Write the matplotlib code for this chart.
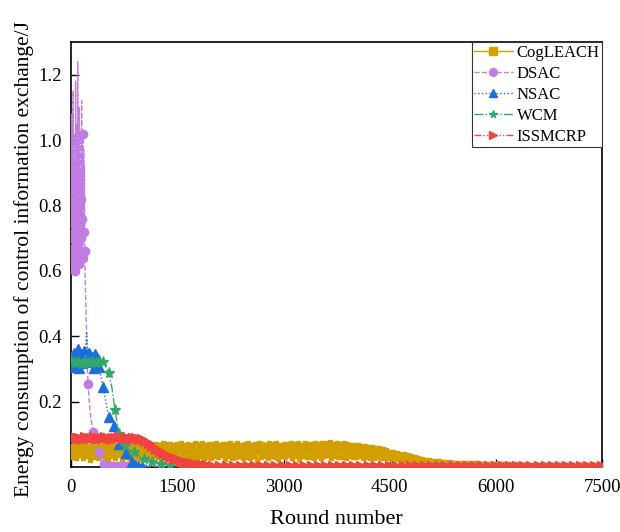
import numpy as np
import matplotlib
matplotlib.use('Agg')
import matplotlib.pyplot as plt

plt.rcParams['font.family'] = ['Liberation Serif', 'DejaVu Serif']

# ---------------- data ----------------
cog_rounds = list(range(0, 7501, 25))
cog_energy = [
    0.064, 0.032, 0.068, 0.026, 0.070, 0.036, 0.066, 0.029, 0.071, 0.034, 0.063, 0.022, 0.069, 0.031, 0.067, 0.027, 0.072, 0.035, 0.065, 0.030,
    0.070, 0.025, 0.066, 0.033, 0.071, 0.028, 0.064, 0.036, 0.069, 0.021, 0.067, 0.032, 0.072, 0.027, 0.065, 0.034, 0.070, 0.029, 0.068, 0.024,
    0.071, 0.033, 0.066, 0.030, 0.073, 0.026, 0.068, 0.035, 0.070, 0.031, 0.067, 0.023, 0.072, 0.034, 0.069, 0.028, 0.071, 0.032, 0.066, 0.036,
    0.070, 0.029, 0.073, 0.034, 0.068, 0.025, 0.071, 0.033, 0.067, 0.030, 0.072, 0.020, 0.069, 0.035, 0.074, 0.028, 0.068, 0.032, 0.071, 0.026,
    0.069, 0.034, 0.072, 0.030, 0.067, 0.036, 0.071, 0.024, 0.070, 0.033, 0.073, 0.028, 0.068, 0.031, 0.072, 0.035, 0.066, 0.027, 0.070, 0.032,
    0.072, 0.029, 0.068, 0.034, 0.071, 0.022, 0.074, 0.031, 0.069, 0.035, 0.067, 0.027, 0.072, 0.033, 0.070, 0.030, 0.073, 0.025, 0.068, 0.034,
    0.071, 0.031, 0.069, 0.036, 0.073, 0.028, 0.070, 0.033, 0.072, 0.024, 0.068, 0.035, 0.074, 0.030, 0.071, 0.032, 0.069, 0.027, 0.073, 0.034,
    0.070, 0.029, 0.074, 0.033, 0.072, 0.036, 0.075, 0.026, 0.071, 0.034, 0.073, 0.030, 0.070, 0.032, 0.072, 0.028, 0.069, 0.035, 0.068, 0.031,
    0.067, 0.030, 0.066, 0.033, 0.064, 0.028, 0.063, 0.031, 0.061, 0.029, 0.060, 0.027, 0.058, 0.030, 0.057, 0.026, 0.055, 0.028, 0.052, 0.027,
    0.047, 0.025, 0.045, 0.024, 0.043, 0.023, 0.041, 0.022, 0.039, 0.021, 0.036, 0.020, 0.033, 0.019, 0.030, 0.018, 0.027, 0.017, 0.024, 0.016,
    0.021, 0.015, 0.020, 0.014, 0.019, 0.014, 0.018, 0.013, 0.017, 0.012, 0.016, 0.012, 0.015, 0.011, 0.014, 0.011, 0.013, 0.010, 0.013, 0.010,
    0.012, 0.010, 0.012, 0.009, 0.012, 0.009, 0.011, 0.009, 0.011, 0.008, 0.011, 0.008, 0.010, 0.008, 0.010, 0.008, 0.010, 0.007, 0.010, 0.007,
    0.009, 0.007, 0.009, 0.007, 0.009, 0.007, 0.008, 0.006, 0.008, 0.006, 0.008, 0.006, 0.008, 0.006, 0.007, 0.006, 0.007, 0.006, 0.007, 0.006,
    0.007, 0.005, 0.007, 0.005, 0.006, 0.005, 0.006, 0.005, 0.006, 0.005, 0.006, 0.005, 0.006, 0.005, 0.006, 0.005, 0.006, 0.005, 0.006, 0.005,
    0.006, 0.005, 0.006, 0.005, 0.006, 0.005, 0.005, 0.005, 0.005, 0.005, 0.005, 0.005, 0.005, 0.005, 0.005, 0.005, 0.005, 0.005, 0.005, 0.005,
    0.005,
]

dsac_rounds = list(range(0, 201, 5)) + [215, 240, 270, 310, 350, 394, 430, 470,
                                        520, 560, 600, 650, 700, 750, 800, 850,
                                        1200, 2000, 3000, 4000, 5000, 6000, 7000, 7500]
dsac_energy = [
    0.92, 0.75, 1.08, 0.62, 0.98, 0.70, 1.15, 0.66, 0.88, 1.02,
    0.60, 0.95, 0.72, 1.18, 0.80, 0.64, 1.05, 0.85, 0.68, 1.24,
    0.78, 0.98, 0.62, 1.10, 0.74, 0.90, 0.66, 1.02, 0.82, 0.70,
    1.12, 0.76, 0.95, 0.64, 1.02, 0.88, 0.97, 0.72, 0.92, 0.66, 0.58,
    0.45, 0.253, 0.17, 0.107, 0.07, 0.046, 0.02, 0.008,
    0.004, 0.003, 0.003, 0.003, 0.003, 0.003, 0.003, 0.003,
    0.003, 0.003, 0.003, 0.003, 0.003, 0.003, 0.003, 0.003,
]
dsac_marks = [0, 1, 3, 5, 7, 8, 10, 12, 14, 15, 17, 18, 20, 22, 24, 26, 28, 29,
              31, 33, 34, 37, 39, 42, 44, 46, 48, 49, 50, 51, 52, 53, 54, 55, 56]

nsac_rounds = list(range(0, 401, 20)) + [450, 490, 535, 570, 605, 640, 675, 725,
                                         775, 815, 855, 900, 950, 1000, 1200,
                                         1500, 2000, 2500, 3000, 3500, 4000, 4500,
                                         5000, 5500, 6000, 6500, 7000, 7500]
nsac_energy = [
    0.335, 0.305, 0.348, 0.310, 0.330, 0.360, 0.302, 0.340, 0.318, 0.355,
    0.350, 0.410, 0.345, 0.350, 0.320, 0.338, 0.303, 0.345, 0.315, 0.330, 0.305,
    0.245, 0.200, 0.153, 0.135, 0.125, 0.095, 0.070, 0.055,
    0.043, 0.028, 0.015, 0.006, 0.004, 0.003, 0.010,
    0.010, 0.010, 0.010, 0.010, 0.010, 0.010, 0.010,
    0.010, 0.010, 0.010, 0.010, 0.010, 0.010,
]
nsac_marks = [0, 1, 2, 3, 4, 5, 6, 7, 8, 9, 10, 12, 13, 14, 15, 16, 17, 18, 19, 20,
              21, 23, 25, 27, 29, 31, 32, 33, 34]

wcm_rounds = list(range(0, 451, 50)) + [535, 580, 620, 680, 760, 890, 1030, 1150,
                                        1270, 1400, 1550, 1700, 1850, 2500, 3500,
                                        4500, 5500, 6500, 7500]
wcm_energy = [
    0.325, 0.318, 0.322, 0.316, 0.324, 0.319, 0.321, 0.317, 0.323, 0.322,
    0.288, 0.240, 0.175, 0.100, 0.064, 0.046, 0.025, 0.015,
    0.010, 0.006, 0.004, 0.003, 0.003, 0.003, 0.003,
    0.003, 0.003, 0.003, 0.003,
]
wcm_marks = [0, 1, 2, 3, 4, 5, 6, 7, 8, 9, 10, 12, 13, 14, 15, 16, 17, 18, 19, 20, 21, 22]

iss_rounds = list(range(0, 1001, 40)) + list(range(1050, 1951, 50)) + list(range(2000, 7501, 100))
iss_energy = [
    0.088, 0.091, 0.089, 0.090, 0.087, 0.092, 0.089, 0.088, 0.091, 0.089,
    0.090, 0.088, 0.092, 0.089, 0.087, 0.090, 0.089, 0.091, 0.088, 0.089,
    0.090, 0.087, 0.089, 0.088, 0.087, 0.085,
    0.080, 0.072, 0.064, 0.056, 0.049, 0.043, 0.037, 0.032, 0.027, 0.023,
    0.019, 0.016, 0.013, 0.011, 0.009, 0.007, 0.006, 0.005, 0.004,
    0.004, 0.004, 0.003, 0.003, 0.003, 0.003, 0.003, 0.003, 0.003, 0.003,
    0.003, 0.003, 0.003, 0.003, 0.003, 0.003, 0.003, 0.003, 0.003, 0.003,
    0.003, 0.003, 0.003, 0.003, 0.003, 0.003, 0.003, 0.003, 0.003, 0.003,
    0.003, 0.003, 0.003, 0.003, 0.003, 0.003, 0.003, 0.003, 0.003, 0.003,
    0.003, 0.003, 0.003, 0.003, 0.003, 0.003, 0.003, 0.003, 0.003, 0.003,
    0.003, 0.003, 0.003, 0.003, 0.003, 0.003,
]

x_ticks = [0, 1500, 3000, 4500, 6000, 7500]
y_ticks = [0.2, 0.4, 0.6, 0.8, 1.0, 1.2]

# ---------------- figure ----------------
fig = plt.figure(figsize=(6.2, 5.32), dpi=100)
ax = fig.add_axes([0.1145, 0.1222, 0.857, 0.7987])

common = dict(zorder=3)
ax.plot(cog_rounds, cog_energy, color='#D29F00', ls='-', lw=1.8, marker='s', ms=3.4,
        mec='#D29F00', label='CogLEACH', **common)
ax.plot(dsac_rounds, dsac_energy, color='#C07CE2', ls='--', lw=1.0, marker='o', ms=6,
        markevery=dsac_marks, label='DSAC', **common)
ax.plot(nsac_rounds, nsac_energy, color='#1C6FDB', ls=':', lw=1.0, marker='^', ms=7,
        markevery=nsac_marks, label='NSAC', **common)
ax.plot(wcm_rounds, wcm_energy, color='#33A869', ls='-.', lw=1.0, marker='*', ms=8,
        markevery=wcm_marks, label='WCM', **common)
ax.plot(iss_rounds, iss_energy, color='#F24343', ls=(0, (5, 1.5, 1, 1.5, 1, 1.5)),
        lw=1.0, marker='>', ms=6.5, label='ISSMCRP', **common)

ax.set_xlim(0, 7500)
ax.set_ylim(0, 1.3)
ax.set_xticks(x_ticks)
ax.set_yticks(y_ticks)
ax.set_yticklabels(['%.1f' % v for v in y_ticks])
ax.tick_params(direction='in', length=6, width=1.0, labelsize=13.5, top=False, right=False)
ax.tick_params(axis='x', pad=8.5)
ax.tick_params(axis='y', pad=6.5)
for s in ax.spines.values():
    s.set_linewidth(1.2)

ax.set_xlabel('Round number', fontsize=16, labelpad=10)
ax.set_ylabel('Energy consumption of control information exchange/J', fontsize=15.5)
ax.yaxis.set_label_coords(-0.069, 0.49)

leg = ax.legend(loc='upper right', borderaxespad=0, fancybox=False, fontsize=12,
                handlelength=2.3, labelspacing=0.3, borderpad=0.15, handletextpad=0.25,
                framealpha=1, edgecolor='#333333')
leg.get_frame().set_linewidth(0.8)
leg.set_zorder(5)
for h in leg.legend_handles:
    h.set_markersize(5.5)
    h.set_linewidth(1.0)

fig.savefig('out.png', dpi=100)
